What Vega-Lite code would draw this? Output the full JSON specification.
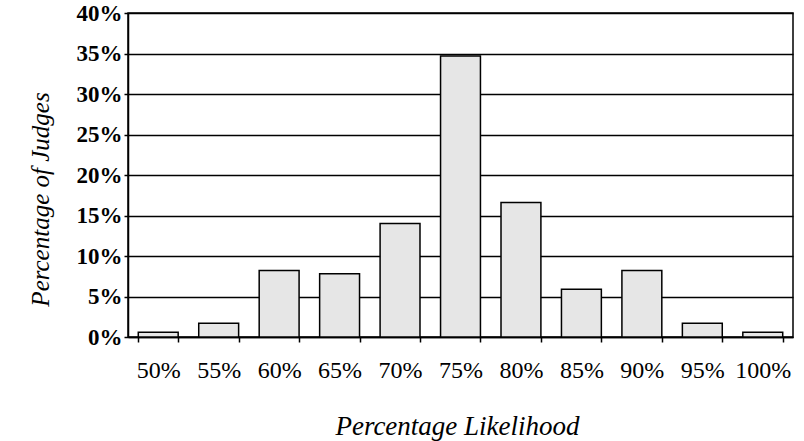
{
  "$schema": "https://vega.github.io/schema/vega-lite/v6.json",
  "autosize": {"type": "none"},
  "padding": {"left": 128, "top": 13, "right": 11, "bottom": 104},
  "width": 665,
  "height": 324,
  "background": "white",
  "config": {
    "view": {"stroke": "black", "strokeWidth": 1.5},
    "font": "Liberation Serif"
  },
  "data": {
    "values": [
      {"likelihood": "50%", "judges": 0.6},
      {"likelihood": "55%", "judges": 1.7},
      {"likelihood": "60%", "judges": 8.2},
      {"likelihood": "65%", "judges": 7.8},
      {"likelihood": "70%", "judges": 14.0},
      {"likelihood": "75%", "judges": 34.7},
      {"likelihood": "80%", "judges": 16.6},
      {"likelihood": "85%", "judges": 5.9},
      {"likelihood": "90%", "judges": 8.2},
      {"likelihood": "95%", "judges": 1.7},
      {"likelihood": "100%", "judges": 0.6}
    ]
  },
  "mark": {"type": "bar", "fill": "#e6e6e6", "stroke": "black", "strokeWidth": 1.5},
  "encoding": {
    "x": {
      "field": "likelihood",
      "type": "ordinal",
      "sort": null,
      "scale": {"paddingInner": 0.34, "paddingOuter": 0.17},
      "axis": {
        "title": "Percentage Likelihood",
        "titleFont": "Liberation Serif",
        "titleFontStyle": "italic",
        "titleFontWeight": "normal",
        "titleFontSize": 27,
        "titleColor": "black",
        "titleX": 329,
        "titleY": 97,
        "titleAlign": "center",
        "titleBaseline": "alphabetic",
        "labelFont": "Liberation Serif",
        "labelFontSize": 24,
        "labelColor": "black",
        "labelAngle": 0,
        "labelPadding": 16,
        "labelDx": 8,
        "tickBand": "extent",
        "tickColor": "black",
        "tickSize": 5,
        "tickWidth": 1.5,
        "domainColor": "black",
        "domainWidth": 1.5
      }
    },
    "y": {
      "field": "judges",
      "type": "quantitative",
      "scale": {"domain": [0, 40]},
      "axis": {
        "values": [0, 5, 10, 15, 20, 25, 30, 35, 40],
        "labelExpr": "datum.value + '%'",
        "title": "Percentage of Judges",
        "titleFont": "Liberation Serif",
        "titleFontStyle": "italic",
        "titleFontWeight": "normal",
        "titleFontSize": 25,
        "titleColor": "black",
        "titleX": -88,
        "titleY": 186,
        "titleAngle": -90,
        "titleAlign": "center",
        "titleBaseline": "middle",
        "labelFont": "Liberation Serif",
        "labelFontWeight": "bold",
        "labelFontSize": 23,
        "labelColor": "black",
        "labelPadding": 2,
        "tickColor": "black",
        "tickSize": 4,
        "tickWidth": 1.5,
        "domainColor": "black",
        "domainWidth": 1.5,
        "grid": true,
        "gridColor": "black",
        "gridWidth": 1.5,
        "gridOpacity": 1
      }
    }
  }
}
